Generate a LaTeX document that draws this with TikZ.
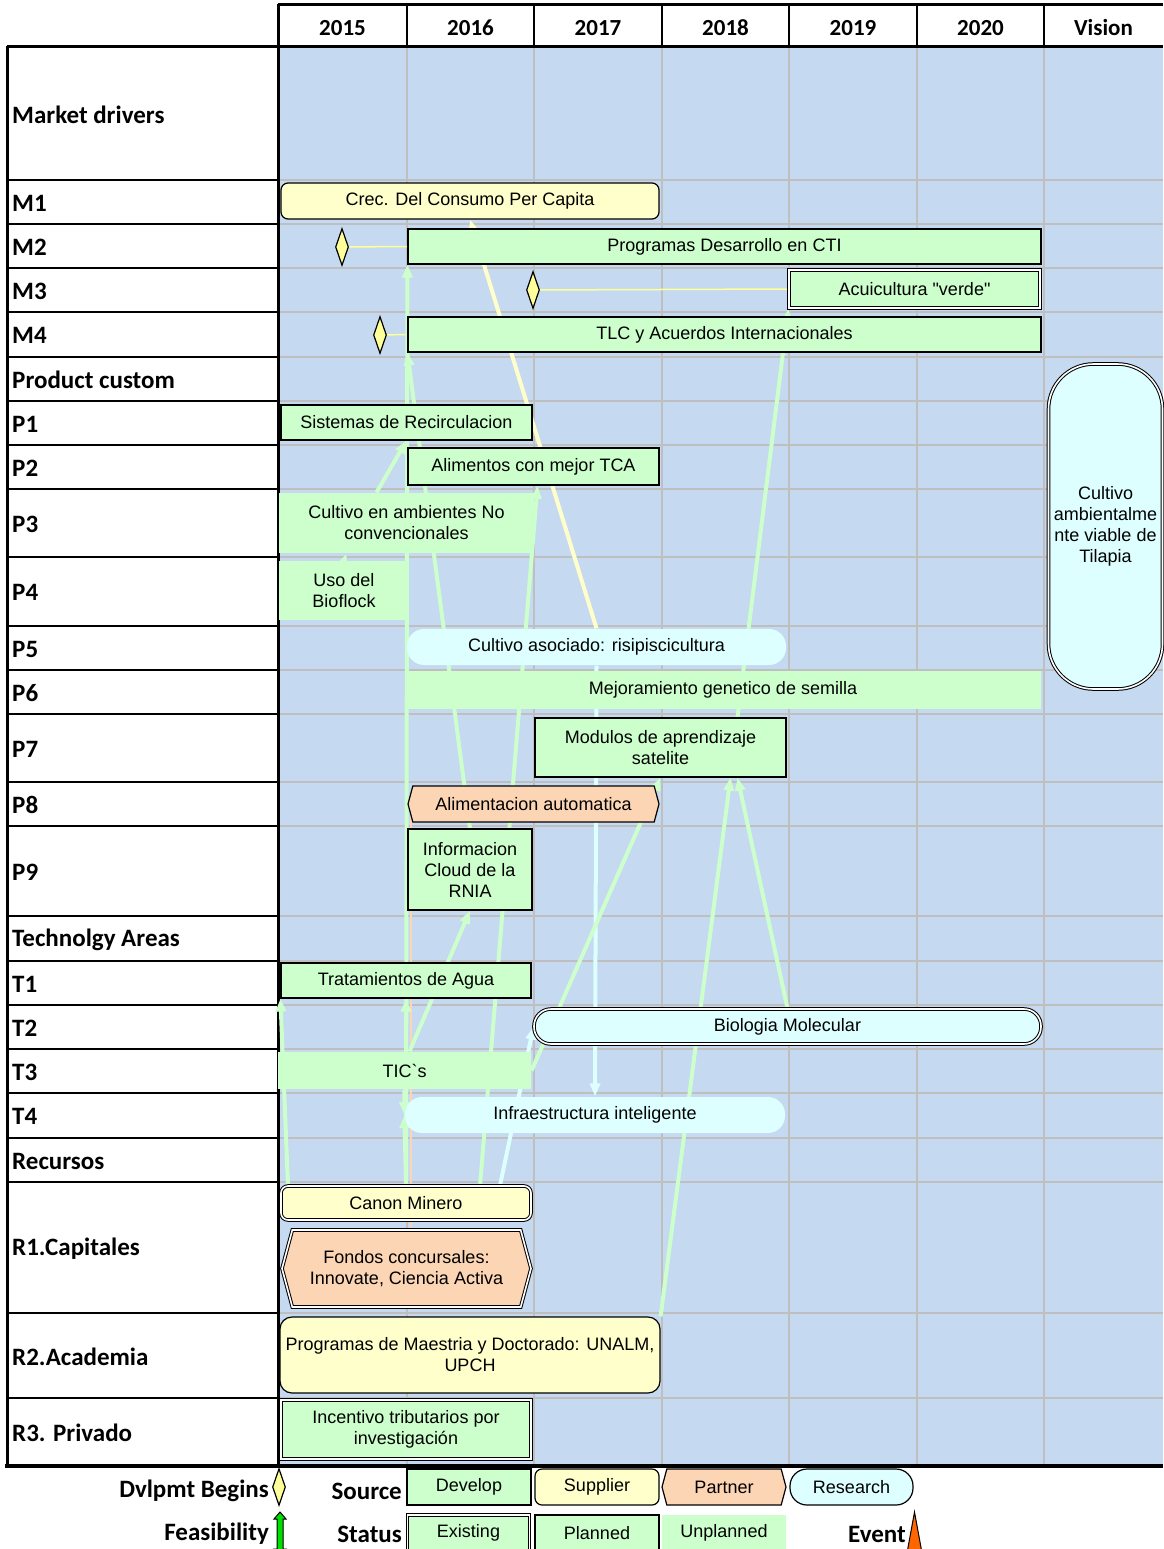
\documentclass[tikz,border=0pt]{standalone}
\usepackage{fontspec}
\setmainfont{Liberation Sans}[Ligatures=TeXOff]
\newfontfamily\labelfont{Carlito}
\usetikzlibrary{shapes.geometric}
\usetikzlibrary{shapes.symbols}
\usetikzlibrary{arrows.meta}

\definecolor{sky}{HTML}{C5D9F1}
\definecolor{gridgray}{HTML}{BFBFBF}
\definecolor{devgreen}{HTML}{CCFFCC}
\definecolor{supyellow}{HTML}{FFFFCC}
\definecolor{parorange}{HTML}{FCD5B4}
\definecolor{rescyan}{HTML}{DDFFFF}
\definecolor{diamondyellow}{HTML}{FFFF99}
\definecolor{eventorange}{HTML}{FF6600}
\definecolor{feasgreen}{HTML}{00E000}

\pgfdeclarelayer{grid}
\pgfdeclarelayer{links}
\pgfsetlayers{grid,links,main}

% source of an item: shape and fill
\tikzstyle{item} = [inner sep=2pt, align=center, line width=1.2pt,
font=\fontsize{18}{21}\selectfont]
\tikzstyle{develop} = [item, rectangle, fill=devgreen]
\tikzstyle{supplier} = [item, rectangle, rounded corners=7pt, fill=supyellow]
\tikzstyle{partner} = [item, signal, signal to=east and west,
signal pointer angle=150, fill=parorange]
\tikzstyle{research} = [item, rectangle, rounded corners=17pt, fill=rescyan]
% status of an item: border
\tikzstyle{planned} = [draw=black]
\tikzstyle{existing} = [draw=black, line width=1pt, double=white, double distance=1.6pt]
\tikzstyle{unplanned} = [draw=none]
\tikzstyle{milestone} = [diamond, draw=black, line width=1.2pt, fill=diamondyellow,
minimum width=13pt, minimum height=37pt, inner sep=0pt]
\tikzstyle{rowlabel} = [anchor=west, inner sep=0pt,
font=\labelfont\bfseries\fontsize{25}{25}\selectfont]
\tikzstyle{yearlabel} = [inner sep=0pt, font=\labelfont\bfseries\fontsize{23}{23}\selectfont]
\tikzstyle{keylabel} = [rowlabel, anchor=east]
\tikzstyle{gridline} = [gridgray, line width=2pt]
\tikzstyle{rule} = [black, line width=2pt]
\tikzstyle{frame} = [black, line width=3pt]
\tikzstyle{link} = [line width=4pt, -{Triangle[length=13pt,width=10pt]}]
\tikzstyle{begins} = [diamondyellow, line width=1.5pt]

\newcommand{\connect}[3][]{ %
  % Link all nodes #2 to all nodes #3.
  \foreach \x in {#2} { %
    \foreach \y in {#3} { %
      \path (\x) edge [link,#1] (\y) ;%
    } ;
  } ;
}

\begin{document}
\begin{tikzpicture}[x=1pt, y=-1pt]
  \useasboundingbox (0,0) rectangle (1163,1549);

  \begin{pgfonlayer}{grid}
    \fill[sky] (278,47) rectangle (1163,1466);
    \foreach \x in {407,534,662,789,917,1044}
      \draw[gridline] (\x,47) -- (\x,1466);
    \foreach \y in {180,224,268,312,357,401,445,489,557,626,670,714,782,826,916,961,1005,1049,1093,1138,1182,1313,1398} {
      \draw[gridline] (278,\y) -- (1163,\y);
      \draw[rule] (7,\y) -- (278,\y);
    }
    \foreach \x in {407,534,662,789,917,1044}
      \draw[rule] (\x,5) -- (\x,47);
    \draw[frame] (278,5) -- (1163,5);
    \draw[frame] (7,47) -- (1163,47);
    \draw[frame] (7,46) -- (7,1467);
    \draw[frame] (278,4) -- (278,1467);
    \draw[frame, line width=4pt] (5,1466) -- (1163,1466);
  \end{pgfonlayer}

  \foreach \x/\yr in {342.5/2015,470.5/2016,598/2017,725.5/2018,853/2019,980.5/2020,1103.5/Vision}
    \node[yearlabel] (yr\yr) at (\x,28) {\yr};

  \foreach \ya/\yb/\lbl in {47/180/Market drivers,180/224/M1,224/268/M2,268/312/M3,
    312/357/M4,357/401/Product custom,401/445/P1,445/489/P2,489/557/P3,557/626/P4,
    626/670/P5,670/714/P6,714/782/P7,782/826/P8,826/916/P9,916/961/Technolgy Areas,
    961/1005/T1,1005/1049/T2,1049/1093/T3,1093/1138/T4,1138/1182/Recursos,
    1182/1313/R1.Capitales,1313/1398/R2.Academia,1398/1466/R3. Privado}
    \node[rowlabel] (row\yb) at (12,{(\ya+\yb)/2+1}) {\lbl};

  % market drivers
  \node[supplier, planned, minimum width=378pt, minimum height=36pt] (crec) at (470,201) {Crec. Del Consumo Per Capita};
  \node[develop, planned, minimum width=633pt, minimum height=35pt] (cti) at (724.5,246.5) {Programas Desarrollo en CTI};
  \node[develop, existing, minimum width=251pt, minimum height=38pt] (verde) at (914.5,289) {Acuicultura "verde"};
  \node[develop, planned, minimum width=633pt, minimum height=35pt] (tlc) at (724.5,334.5) {TLC y Acuerdos Internacionales};
  \node[milestone] (dcti) at (342,247) {};
  \node[milestone] (dverde) at (533,290) {};
  \node[milestone] (dtlc) at (380,335) {};

  % products
  \node[develop, planned, minimum width=251pt, minimum height=35pt] (recirc) at (406.5,422.5) {Sistemas de Recirculacion};
  \node[develop, planned, minimum width=251pt, minimum height=37pt] (tca) at (533.5,466.5) {Alimentos con mejor TCA};
  \node[develop, unplanned, minimum width=255pt, minimum height=60pt] (noconv) at (406.5,523) {Cultivo en ambientes No\\convencionales};
  \node[develop, unplanned, minimum width=130pt, minimum height=59pt] (bioflock) at (344,590.5) {Uso del\\Bioflock};
  \node[research, unplanned, minimum width=379pt, minimum height=36pt] (risi) at (596.5,647) {Cultivo asociado: risipiscicultura};
  \node[develop, unplanned, minimum width=636pt, minimum height=38pt] (semilla) at (723,690) {Mejoramiento genetico de semilla};
  \node[develop, planned, minimum width=251pt, minimum height=59pt] (modulos) at (660.5,747.5) {Modulos de aprendizaje\\satelite};
  \node[partner, planned, minimum width=251pt, minimum height=36pt] (autom) at (533.5,804) {Alimentacion automatica};
  \node[develop, planned, minimum width=124pt, minimum height=81pt] (cloud) at (470,869.5) {Informacion\\Cloud de la\\RNIA};
  \node[research, existing, rounded corners=45pt, minimum width=114pt, minimum height=325pt] (tilapia) at (1105.5,526.5) {Cultivo\\ambientalme\\nte viable de\\Tilapia};

  % technology areas
  \node[develop, planned, minimum width=250pt, minimum height=35pt] (agua) at (406,980.5) {Tratamientos de Agua};
  \node[research, existing, minimum width=507pt, minimum height=35pt] (biomol) at (787.5,1026.5) {Biologia Molecular};
  \node[develop, unplanned, minimum width=253pt, minimum height=37pt] (tics) at (404.5,1070.5) {TIC`s};
  \node[research, unplanned, minimum width=380pt, minimum height=36pt] (infra) at (595,1115) {Infraestructura inteligente};

  % resources
  \node[supplier, existing, minimum width=250pt, minimum height=34pt] (canon) at (406,1203) {Canon Minero};
  \node[partner, existing, minimum width=249pt, minimum height=77pt] (fondos) at (406.5,1268.5) {Fondos concursales:\\Innovate, Ciencia Activa};
  \node[supplier, planned, rounded corners=12pt, minimum width=380pt, minimum height=76pt] (maestria) at (470,1355) {Programas de Maestria y Doctorado: UNALM,\\UPCH};
  \node[develop, existing, minimum width=250pt, minimum height=59pt] (incentivo) at (406,1429.5) {Incentivo tributarios por\\investigación};

  \begin{pgfonlayer}{links}
    \coordinate (canonA) at ([xshift=74pt]canon.north);
    \coordinate (canonB) at ([xshift=-118pt]canon.north);
    \coordinate (canonC) at ([xshift=94pt]canon.north);
    \coordinate (tcaIn) at ([xshift=4pt]tca.south);
    \coordinate (ticsA) at ([xshift=5pt]tics.north);
    \coordinate (noconvA) at ([xshift=-30pt]noconv.north);
    \coordinate (noconvB) at ([xshift=-60pt]noconv.south);
    \coordinate (modA) at ([xshift=77pt]modulos.north);
    \coordinate (modB) at ([xshift=70pt]modulos.south);
    \coordinate (modC) at ([xshift=77pt]modulos.south);
    \coordinate (fondosA) at ([xshift=4pt]fondos.center);
    \coordinate (automA) at ([xshift=-123pt]autom.center);

    \draw[begins] (dcti) -- (cti.west);
    \draw[begins] (dverde) -- (verde.west);
    \draw[begins] (dtlc) -- (tlc.west);
    \draw[parorange, line width=2pt] (fondosA) -- (automA);

    \connect[supyellow]{risi.north}{crec.south}
    \connect[rescyan]{risi.south}{infra.north}
    \connect[rescyan]{canonC}{biomol.west}
    \connect[devgreen]{canon.north}{infra.west,agua.south,cti.south west}
    \connect[devgreen]{canonA}{tcaIn}
    \connect[devgreen]{canonB}{agua.south west}
    \connect[devgreen]{tics.south}{infra.west}
    \connect[devgreen]{ticsA}{cloud.south}
    \connect[devgreen]{tics.east}{modulos.south}
    \connect[devgreen]{cloud.north}{tlc.south west}
    \connect[devgreen]{noconvA}{recirc.south}
    \connect[devgreen]{bioflock.north}{noconvB}
    \connect[devgreen]{modA}{verde.south west}
    \connect[devgreen]{maestria.north east}{modB}
    \connect[devgreen]{biomol.north}{modC}
  \end{pgfonlayer}

  % key
  \node[keylabel] (kbegins) at (269,1491) {Dvlpmt Begins};
  \node[milestone] (kdiamond) at (279,1487) {};
  \node[keylabel] (ksource) at (402,1491) {Source};
  \node[develop, planned, minimum width=124pt, minimum height=36pt] (kdev) at (469,1487) {Develop};
  \node[supplier, planned, minimum width=124pt, minimum height=36pt] (ksup) at (597,1487) {Supplier};
  \node[partner, planned, minimum width=124pt, minimum height=36pt] (kpar) at (724,1487) {Partner};
  \node[research, planned, minimum width=123pt, minimum height=36pt] (kres) at (851.5,1487) {Research};
  \node[keylabel] (kfeas) at (269,1534) {Feasibility};
  \draw[black, line width=1pt, fill=feasgreen] (280,1512) -- (286,1519) -- (283,1519) -- (283,1549)
    -- (286,1549) -- (280,1556) -- (274,1549) -- (277,1549) -- (277,1519) -- (274,1519) -- cycle;
  \node[keylabel] (kstatus) at (402,1534) {Status};
  \node[develop, existing, minimum width=122pt, minimum height=36pt] (kexi) at (468.5,1533) {Existing};
  \node[develop, planned, minimum width=124pt, minimum height=36pt] (kpla) at (597,1533) {Planned};
  \node[develop, unplanned, minimum width=124pt, minimum height=36pt] (kunp) at (724,1533) {Unplanned};
  \node[keylabel] (kevent) at (906,1534) {Event};
  \draw[black, line width=1pt, fill=eventorange] (907,1553) -- (914.5,1512) -- (922,1553) -- cycle;
\end{tikzpicture}
\end{document}
